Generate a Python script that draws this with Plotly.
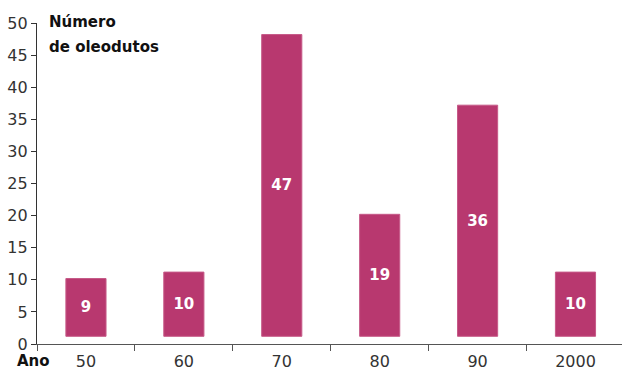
import plotly.graph_objects as go

decades = ["50", "60", "70", "80", "90", "2000"]
pipelines = [9, 10, 47, 19, 36, 10]
base_value = 1.2
y_ticks = [0, 5, 10, 15, 20, 25, 30, 35, 40, 45, 50]

FONT = "DejaVu Sans"
BAR = "#B8386F"

x_idx = list(range(len(decades)))

fig = go.Figure()
fig.add_trace(go.Bar(
    x=x_idx, y=pipelines, base=[base_value] * len(pipelines),
    width=0.41,
    marker=dict(color=BAR, line=dict(color="#C65A88", width=1)),
    text=[str(v) for v in pipelines],
    textposition="inside", insidetextanchor="middle",
    textfont=dict(family=FONT, size=15, color="white", weight="bold"),
    hoverinfo="skip",
))

fig.update_layout(
    width=622, height=371,
    margin=dict(l=37, r=0, t=23, b=27),
    paper_bgcolor="white", plot_bgcolor="white",
    showlegend=False,
    font=dict(family=FONT, size=16, color="#222"),
    xaxis=dict(
        range=[-0.5, 5.475],
        tickvals=x_idx, ticktext=decades,
        ticks="", showgrid=False, zeroline=False,
        showline=True, linecolor="#555", linewidth=1.3,
        ticklabelstandoff=3, automargin=False,
        tickfont=dict(family=FONT, size=16, color="#333"),
        minor=dict(tickvals=[-0.5, 0.5, 1.5, 2.5, 3.5, 4.5], ticks="outside",
                   ticklen=6, tickcolor="#555", tickwidth=1.3, showgrid=False),
    ),
    yaxis=dict(
        range=[0, 50], tickvals=y_ticks,
        ticks="outside", ticklen=5, tickcolor="#333", tickwidth=1.2,
        showgrid=False, zeroline=False, automargin=False,
        showline=True, linecolor="#333", linewidth=1.3,
        tickfont=dict(family=FONT, size=16, color="#333"),
    ),
    annotations=[
        dict(text="<b>Número</b>", xref="paper", yref="paper", x=10/585, y=1,
             xanchor="left", yanchor="middle", showarrow=False, yshift=1,
             font=dict(family=FONT, size=15, color="#111")),
        dict(text="<b>de oleodutos</b>", xref="paper", yref="paper", x=10/585, y=1,
             xanchor="left", yanchor="middle", showarrow=False, yshift=-24,
             font=dict(family=FONT, size=15, color="#111")),
        dict(text="<b>Ano</b>", xref="paper", yref="paper", x=-3.5/585, y=0,
             xanchor="center", yanchor="middle", showarrow=False, yshift=-17,
             font=dict(family=FONT, size=15, color="#111")),
    ],
)

fig.write_html("out.html")
